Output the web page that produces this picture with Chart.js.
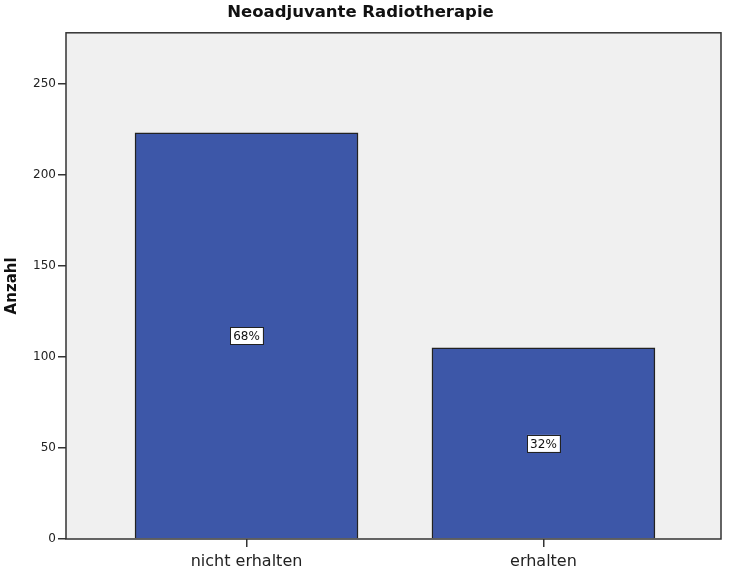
<!DOCTYPE html>
<html>
<head>
<meta charset="utf-8">
<script src="https://cdn.jsdelivr.net/npm/chart.js@4"></script>
<style>
  html, body { margin: 0; padding: 0; background: #fff; }
  #wrap { width: 731px; height: 576px; }
</style>
</head>
<body>
<div id="wrap"><canvas id="chart" width="731" height="576"></canvas></div>
<script>
const categories = ['nicht erhalten', 'erhalten'];
const counts = [223, 105];
const percentLabels = ['68%', '32%'];
const yTicks = [0, 50, 100, 150, 200, 250];

const FONT = '"DejaVu Sans", sans-serif';

// gray plot panel with black frame
const framePlugin = {
  id: 'frame',
  beforeDatasetsDraw(chart) {
    const { ctx, chartArea: a } = chart;
    ctx.save();
    ctx.fillStyle = '#f0f0f0';
    ctx.fillRect(a.left, a.top, a.right - a.left, a.bottom - a.top);
    ctx.restore();
  },
  afterDatasetsDraw(chart) {
    const { ctx, chartArea: a } = chart;
    ctx.save();
    ctx.strokeStyle = '#333';
    ctx.lineWidth = 1.5;
    ctx.strokeRect(a.left, a.top, a.right - a.left, a.bottom - a.top);
    ctx.restore();
  }
};

// percentage boxes in the middle of each bar
const percentPlugin = {
  id: 'percent',
  afterDatasetsDraw(chart) {
    const { ctx } = chart;
    const meta = chart.getDatasetMeta(0);
    const yScale = chart.scales.y;
    ctx.save();
    ctx.font = '12px ' + FONT;
    ctx.textAlign = 'center';
    ctx.textBaseline = 'middle';
    meta.data.forEach((bar, i) => {
      const x = bar.x;
      const y = yScale.getPixelForValue(counts[i] / 2);
      const txt = percentLabels[i];
      const w = ctx.measureText(txt).width + 6;
      const h = 17;
      ctx.fillStyle = '#fff';
      ctx.fillRect(x - w / 2, y - h / 2, w, h);
      ctx.strokeStyle = '#222';
      ctx.lineWidth = 1;
      ctx.strokeRect(Math.round(x - w / 2) + 0.5, Math.round(y - h / 2) + 0.5, Math.round(w), h);
      ctx.fillStyle = '#111';
      ctx.fillText(txt, x, y + 1);
    });
    ctx.restore();
  }
};

new Chart(document.getElementById('chart'), {
  type: 'bar',
  data: {
    datasets: [{
      data: counts.map((v, i) => ({ x: i, y: v })),
      backgroundColor: '#3d57a8',
      borderColor: '#222',
      borderWidth: 1.5,
      borderSkipped: 'bottom',
      barThickness: 223
    }]
  },
  plugins: [framePlugin, percentPlugin],
  options: {
    responsive: false,
    animation: false,
    layout: { padding: { left: 0, right: 10, top: 0, bottom: 0 } },
    plugins: {
      legend: { display: false },
      tooltip: { enabled: false },
      title: {
        display: true,
        text: 'Neoadjuvante Radiotherapie',
        color: '#111',
        font: { family: FONT, size: 16.5, weight: 'bold' },
        padding: { top: 3, bottom: 10 }
      }
    },
    scales: {
      x: {
        type: 'linear',
        offset: false,
        min: -0.608,
        max: 1.598,
        afterBuildTicks: s => { s.ticks = categories.map((c, i) => ({ value: i })); },
        afterFit: s => { s.height = 37; },
        ticks: {
          callback: v => categories[v],
          color: '#222',
          font: { family: FONT, size: 16 },
          padding: 5,
          maxRotation: 0
        },
        grid: { offset: false, drawOnChartArea: false, drawTicks: true, tickLength: 8, color: '#333', lineWidth: 1.5 },
        border: { display: false }
      },
      y: {
        min: 0,
        max: 278,
        afterBuildTicks: s => { s.ticks = yTicks.map(v => ({ value: v })); },
        afterFit: s => { s.width = 66; },
        ticks: {
          color: '#222',
          font: { family: FONT, size: 12 },
          padding: 2
        },
        title: {
          display: true,
          text: 'Anzahl',
          color: '#111',
          font: { family: FONT, size: 15, weight: 'bold' },
          padding: { top: 3, bottom: 0 }
        },
        grid: { drawOnChartArea: false, drawTicks: true, tickLength: 8, color: '#333', lineWidth: 1.5 },
        border: { display: false }
      }
    }
  }
});
</script>
</body>
</html>
